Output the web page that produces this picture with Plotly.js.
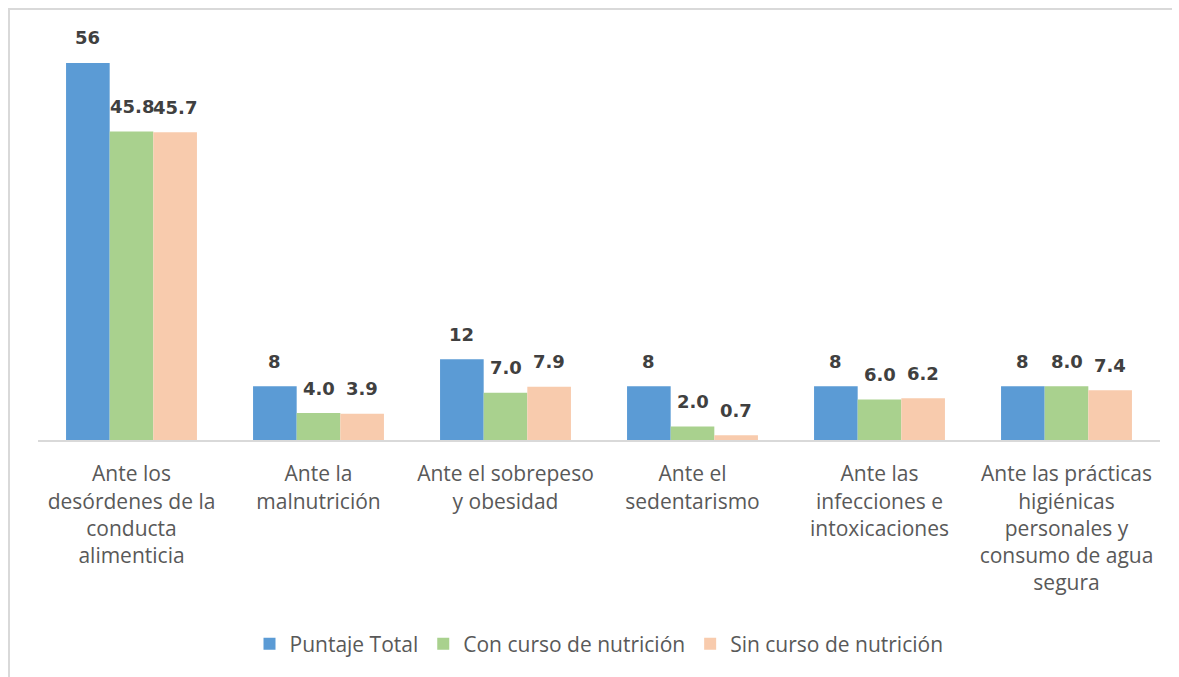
<!DOCTYPE html>
<html>
<head>
<meta charset="utf-8">
<script src="https://cdn.plot.ly/plotly-3.0.1.min.js"></script>
<style>
html,body{margin:0;padding:0;background:#fff;}
#wrap{position:relative;width:1179px;height:677px;overflow:hidden;}
#chart{position:absolute;left:0;top:0;width:1179px;height:677px;}
#frame{position:absolute;left:8px;top:8px;width:1162px;height:680px;border-left:2px solid #d9d9d9;border-top:2px solid #d9d9d9;pointer-events:none;}
</style>
</head>
<body>
<div id="wrap"><div id="chart"></div><div id="frame"></div></div>
<script>
var categories = [
  "Ante los<br>desórdenes de la<br>conducta<br>alimenticia",
  "Ante la<br>malnutrición",
  "Ante el sobrepeso<br>y obesidad",
  "Ante el<br>sedentarismo",
  "Ante las<br>infecciones e<br>intoxicaciones",
  "Ante las prácticas<br>higiénicas<br>personales y<br>consumo de agua<br>segura"
];
var puntajeTotal = [56, 8, 12, 8, 8, 8];
var conCurso = [45.8, 4.0, 7.0, 2.0, 6.0, 8.0];
var sinCurso = [45.7, 3.9, 7.9, 0.7, 6.2, 7.4];
var seriesNames = ["Puntaje Total", "Con curso de nutrición", "Sin curso de nutrición"];

var series = [
  {name: seriesNames[0], vals: puntajeTotal, color: "#5B9BD5", dec: 0},
  {name: seriesNames[1], vals: conCurso, color: "#A9D18E", dec: 1},
  {name: seriesNames[2], vals: sinCurso, color: "#F8CBAD", dec: 1}
];
var data = series.map(function (s) {
  return {
    type: "bar", name: s.name, x: categories, y: s.vals,
    marker: {color: s.color}, hoverinfo: "skip"
  };
});

var plotW = 1179 - 38 - 19;
var barW = plotW / categories.length * 0.7 / 3;
var annotations = [];
series.forEach(function (s, si) {
  s.vals.forEach(function (v, i) {
    annotations.push({
      x: categories[i], y: v, xref: "x", yref: "y",
      text: "<b>" + v.toFixed(s.dec) + "</b>",
      showarrow: false, xanchor: "center", yanchor: "middle",
      xshift: (si - 1) * barW, yshift: 25,
      font: {family: "DejaVu Sans", size: 18, color: "#404040"}
    });
  });
});

var layout = {
  width: 1179, height: 677,
  margin: {l: 38, r: 19, t: 36, b: 237},
  paper_bgcolor: "#fff", plot_bgcolor: "#fff",
  barmode: "group", bargap: 0.3, bargroupgap: 0,
  showlegend: true,
  font: {family: "Open Sans", color: "#595959"},
  annotations: annotations,
  xaxis: {
    showline: true, linecolor: "#d9d9d9", linewidth: 2,
    ticks: "", showgrid: false, zeroline: false,
    tickfont: {family: "Open Sans", size: 21, color: "#595959"},
    tickangle: 0, ticklabelstandoff: 14
  },
  yaxis: {range: [0, 60], visible: false, fixedrange: true},
  legend: {
    orientation: "h", x: 0.5, xanchor: "center", y: -0.505, yanchor: "middle",
    font: {family: "Open Sans", size: 21, color: "#595959"},
    traceorder: "normal"
  }
};
Plotly.newPlot("chart", data, layout, {displayModeBar: false, staticPlot: true});
</script>
</body>
</html>
